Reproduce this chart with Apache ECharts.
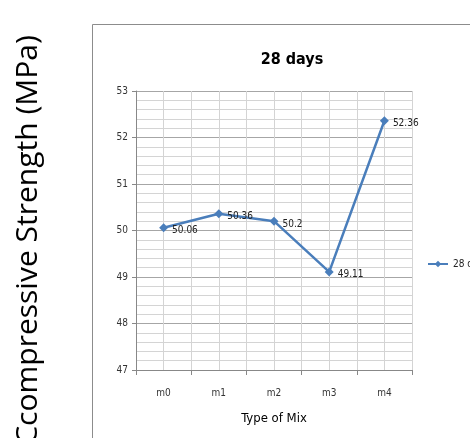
<!DOCTYPE html>
<html><head><meta charset="utf-8">
<script src="https://cdn.jsdelivr.net/npm/echarts@6/dist/echarts.min.js"></script>
<style>html,body{margin:0;padding:0;background:#fff}#c{width:470px;height:438px}</style>
</head><body><div id="c"></div>
<script>
const categories = ['m0','m1','m2','m3','m4'];
const values = [50.06, 50.36, 50.2, 49.11, 52.36];
const seriesName = '28 days';
const titleText = '28 days';
const xTitle = 'Type of Mix';
const yTitle = 'Ccompressive Strength (MPa)';
const yMin = 47, yMax = 53, yStep = 1;

const NF = '"Liberation Sans Narrow","DejaVu Sans Condensed",sans-serif';
const chart = echarts.init(document.getElementById('c'));
chart.setOption({
  animation: false,
  backgroundColor: '#fff',
  title: { text: titleText, left: 287, top: 47, textAlign: 'center',
    textStyle: { fontFamily: NF, fontSize: 16, fontWeight: 'bold', color: '#000' } },
  legend: { left: 422, top: 254, itemWidth: 20, itemHeight: 8, itemGap: 4,
    textStyle: { fontFamily: NF, fontSize: 10, color: '#222' },
    data: [seriesName] },
  graphic: [
    { type: 'rect', shape: { x: 92.5, y: 24.5, width: 420, height: 430 },
      style: { fill: 'none', stroke: '#8c8c8c', lineWidth: 1 }, z: -1 },
    { type: 'text', x: 28, y: 240, rotation: Math.PI / 2,
      style: { text: yTitle, fontFamily: '"Open Sans",sans-serif', fontSize: 30,
        fill: '#000', align: 'center', verticalAlign: 'middle' } }
  ],
  grid: { left: 136, top: 91, width: 276, height: 279 },
  xAxis: [
    { type: 'category', data: categories, boundaryGap: true,
      name: xTitle, nameLocation: 'middle', nameGap: 42,
      nameTextStyle: { fontFamily: NF, fontSize: 13, color: '#000' },
      axisLine: { lineStyle: { color: '#888' } },
      axisTick: { show: true, length: 5, lineStyle: { color: '#888' } },
      axisLabel: { fontFamily: NF, fontSize: 10, color: '#333', margin: 18 },
      splitLine: { show: true, lineStyle: { color: '#a6a6a6', width: 1 } } },
    { type: 'value', min: 0, max: 10, interval: 1, show: true,
      axisLine: { show: false }, axisTick: { show: false }, axisLabel: { show: false },
      splitLine: { show: true, lineStyle: { color: '#d4d4d4', width: 1 } } }
  ],
  yAxis: {
    type: 'value', min: yMin, max: yMax, interval: yStep,
    axisLine: { show: true, lineStyle: { color: '#888' } },
    axisTick: { show: true, length: 4, lineStyle: { color: '#888' } },
    axisLabel: { fontFamily: NF, fontSize: 10, color: '#333', margin: 8 },
    splitLine: { show: true, lineStyle: { color: '#a6a6a6', width: 1 } },
    minorTick: { show: false, splitNumber: 5 },
    minorSplitLine: { show: true, lineStyle: { color: '#d4d4d4', width: 1 } }
  },
  series: [{
    name: seriesName, type: 'line', xAxisIndex: 0, data: values,
    symbol: 'diamond', symbolSize: 9,
    lineStyle: { color: '#4a7ebb', width: 2.5 },
    itemStyle: { color: '#4a7ebb' },
    label: { show: true, position: 'right', distance: 4, offset: [0, 3],
      fontFamily: NF, fontSize: 10, color: '#222' }
  }]
});
</script></body></html>
